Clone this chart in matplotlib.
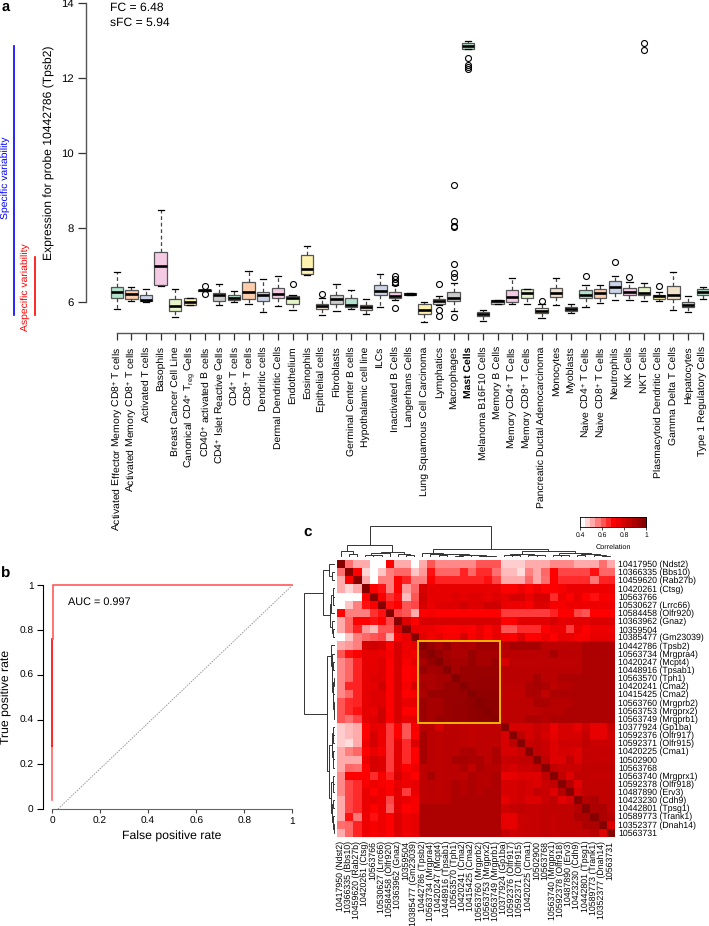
import numpy as np
import matplotlib
matplotlib.use("Agg")
import matplotlib.pyplot as plt
from matplotlib.colors import LinearSegmentedColormap
from matplotlib.patches import Rectangle

plt.rcParams['font.family'] = ['Liberation Sans', 'DejaVu Sans']
plt.rcParams['mathtext.fontset'] = 'custom'
plt.rcParams['mathtext.rm'] = 'Liberation Sans'
plt.rcParams['mathtext.default'] = 'regular'
plt.rcParams['text.hinting'] = 'no_hinting'

W, H = 709, 926

# ---------- panel a data ----------
cell_types = [
    "Activated Effector Memory CD8$^{+}$ T cells", "Activated Memory CD8$^{+}$ T cells", "Activated T cells",
    "Basophils", "Breast Cancer Cell Line", "Canonical CD4$^{+}$ T$_{reg}$ Cells", "CD40$^{+}$ activated B cells",
    "CD4$^{+}$ Islet Reactive Cells", "CD4$^{+}$ T cells", "CD8$^{+}$ T cells", "Dendritic cells",
    "Dermal Dendritic Cells", "Endothelium", "Eosinophils", "Epithelial cells", "Fibroblasts",
    "Germinal Center B cells", "Hypothalamic cell line", "ILCs", "Inactivated B Cells", "Langerhans Cells",
    "Lung Squamous Cell Carcinoma", "Lymphatics", "Macrophages", "Mast Cells", "Melanoma B16F10 Cells",
    "Memory B Cells", "Memory CD4$^{+}$ T Cells", "Memory CD8$^{+}$ T Cells", "Pancreatic Ductal Adenocarcinoma",
    "Monocytes", "Myoblasts", "Naive CD4$^{+}$ T Cells", "Naive CD8$^{+}$ T Cells", "Neutrophils", "NK Cells",
    "NKT Cells", "Plasmacytoid Dendritic Cells", "Gamma Delta T Cells", "Hepatocytes", "Type 1 Regulatory Cells",
]
box_med = [6.27, 6.22, 6.06, 6.98, 5.91, 6.02, 6.32, 6.20, 6.13, 6.29, 6.20, 6.22, 6.11, 6.90, 5.91, 6.10, 5.94,
           5.88, 6.31, 6.18, 6.22, 5.80, 6.03, 6.13, 12.87, 5.69, 6.03, 6.15, 6.24, 5.78, 6.26, 5.83, 6.21, 6.25,
           6.41, 6.29, 6.24, 6.16, 6.19, 5.94, 6.29]
box_q1 = [6.11, 6.09, 6.03, 6.46, 5.77, 5.94, 6.30, 6.03, 6.07, 6.10, 6.04, 6.13, 5.96, 6.75, 5.82, 5.95, 5.88,
          5.79, 6.21, 6.11, 6.20, 5.69, 5.96, 6.03, 12.78, 5.63, 5.97, 6.01, 6.13, 5.71, 6.14, 5.77, 6.11, 6.13,
          6.26, 6.19, 6.20, 6.09, 6.10, 5.88, 6.21]
box_q3 = [6.40, 6.33, 6.21, 7.34, 6.08, 6.12, 6.34, 6.26, 6.19, 6.54, 6.28, 6.38, 6.17, 7.26, 5.97, 6.21, 6.12,
          5.94, 6.47, 6.27, 6.24, 5.95, 6.08, 6.27, 12.94, 5.75, 6.07, 6.32, 6.35, 5.84, 6.38, 5.88, 6.34, 6.37,
          6.56, 6.38, 6.41, 6.21, 6.45, 6.01, 6.37]
box_lo = [5.82, 6.03, 6.02, 6.45, 5.62, 5.93, 6.30, 5.94, 6.02, 5.95, 5.73, 5.90, 5.79, 6.73, 5.66, 5.77, 5.82,
          5.69, 5.88, 6.06, 6.20, 5.48, 5.92, 5.77, 12.77, 5.49, 5.97, 5.96, 5.96, 5.58, 5.93, 5.72, 5.88, 5.98,
          6.06, 6.07, 6.03, 6.03, 5.79, 5.75, 6.10]
box_hi = [6.82, 6.40, 6.35, 8.46, 6.37, 6.12, 6.34, 6.50, 6.30, 6.85, 6.62, 6.70, 6.20, 7.51, 6.12, 6.50, 6.32,
          6.08, 6.76, 6.46, 6.24, 6.02, 6.17, 6.53, 12.99, 5.80, 6.07, 6.66, 6.37, 5.96, 6.65, 5.96, 6.46, 6.46,
          6.71, 6.55, 6.53, 6.27, 6.82, 6.18, 6.40]
box_out = {
    6: [6.44, 6.22], 12: [6.48], 14: [6.23],
    19: [6.71, 6.63, 6.55, 6.51, 5.84],
    22: [6.48, 5.81, 5.64],
    23: [9.13, 8.18, 8.04, 8.02, 7.04, 6.78, 6.67, 5.62],
    24: [12.53, 12.36, 12.30, 12.24],
    29: [6.04], 32: [6.70], 34: [7.07], 35: [6.67], 36: [12.93, 12.76], 37: [6.45],
}
box_colors = ['#B3E2CD', '#FDCDAC', '#CBD5E8', '#F4CAE4', '#E6F5C9', '#FFF2AE', '#F1E2CC', '#CCCCCC']
yticks_a = [6, 8, 10, 12, 14]

# ---------- panel b data ----------
roc_x_light1 = [0.0, 0.0]
roc_y_light1 = [0.04, 0.28]
roc_x_mid = [0.002, 0.002]
roc_y_mid = [0.28, 0.76]
roc_x_light2 = [0.005, 0.005, 1.0]
roc_y_light2 = [0.76, 1.0, 1.0]
diag_x = [0.025, 1.0]
diag_y = [0.0, 1.0]
ticks_b = [0, 0.2, 0.4, 0.6, 0.8, 1]
ticklabels_b = ['0', '0.2', '0.4', '0.6', '0.8', '1']

# ---------- panel c data ----------
probes = [
    "10417950 (Ndst2)", "10366335 (Bbs10)", "10459620 (Rab27b)", "10420261 (Ctsg)", "10563766", "10530627 (Lrrc66)",
    "10584458 (Olfr920)", "10363962 (Gnaz)", "10359504", "10385477 (Gm23039)", "10442786 (Tpsb2)",
    "10563734 (Mrgpra4)", "10420247 (Mcpt4)", "10448916 (Tpsab1)", "10563570 (Tph1)", "10420241 (Cma2)",
    "10415425 (Cma2)", "10563760 (Mrgprb2)", "10563753 (Mrgprx2)", "10563749 (Mrgprb1)", "10377924 (Gp1ba)",
    "10592376 (Olfr917)", "10592371 (Olfr915)", "10420225 (Cma1)", "10502900", "10563768", "10563740 (Mrgprx1)",
    "10592378 (Olfr918)", "10487890 (Erv3)", "10423230 (Cdh9)", "10442801 (Tpsg1)", "10589773 (Trank1)",
    "10352377 (Dnah14)", "10563731",
]
corr_upper = [
    [1, .57, .50, .50, .40, .40, .70, .50, .50, .40, .50, .60, .54, .54, .54, .54, .54, .60, .60, .60, .46, .46, .46, .50, .50, .50, .54, .54, .54, .50, .50, .50, .57, .50],
    [1, .70, .45, .40, .47, .55, .58, .58, .47, .52, .68, .58, .58, .58, .66, .58, .65, .65, .57, .48, .48, .44, .55, .50, .58, .70, .62, .62, .62, .62, .68, .58, .58],
    [1, .50, .40, .55, .55, .70, .66, .55, .55, .70, .66, .66, .66, .66, .66, .66, .68, .62, .50, .50, .50, .58, .50, .57, .70, .65, .65, .65, .65, .56, .66, .66],
    [1, .70, .68, .55, .70, .52, .58, .80, .76, .76, .76, .76, .76, .76, .76, .76, .76, .70, .70, .74, .70, .74, .70, .70, .72, .75, .75, .75, .74, .74, .74],
    [1, .72, .64, .68, .48, .60, .82, .76, .76, .76, .78, .76, .78, .78, .75, .78, .76, .80, .80, .75, .80, .80, .65, .74, .70, .76, .70, .68, .72, .72],
    [1, .68, .70, .60, .62, .80, .75, .78, .78, .78, .82, .78, .78, .82, .82, .75, .74, .74, .72, .78, .78, .72, .72, .74, .74, .74, .74, .74, .74],
    [1, .62, .60, .50, .70, .72, .70, .70, .70, .70, .70, .70, .70, .70, .63, .63, .63, .63, .63, .63, .66, .70, .70, .62, .60, .70, .70, .70],
    [1, .78, .70, .80, .80, .80, .80, .80, .80, .80, .80, .80, .80, .70, .70, .77, .77, .77, .77, .80, .76, .77, .77, .77, .79, .79, .79],
    [1, .75, .74, .74, .72, .70, .70, .72, .70, .75, .70, .75, .60, .60, .65, .65, .65, .70, .74, .74, .63, .75, .70, .74, .74, .74],
    [1, .77, .73, .76, .72, .72, .80, .72, .76, .70, .76, .72, .70, .78, .70, .70, .74, .70, .76, .75, .72, .72, .76, .76, .76],
    [1, .96, .92, .96, .90, .92, .90, .94, .94, .94, .88, .92, .92, .92, .92, .86, .86, .86, .86, .86, .90, .90, .90, .90],
    [1, .96, .92, .90, .90, .95, .92, .92, .92, .87, .87, .87, .87, .87, .87, .92, .87, .87, .87, .90, .90, .90, .90],
    [1, .93, .92, .92, .95, .92, .92, .95, .80, .86, .86, .86, .86, .86, .86, .86, .86, .86, .90, .90, .90, .90],
    [1, .92, .95, .95, .95, .95, .95, .87, .87, .87, .87, .87, .87, .87, .87, .87, .87, .90, .90, .90, .90],
    [1, .95, .95, .96, .96, .96, .87, .87, .87, .87, .92, .87, .87, .90, .90, .90, .90, .90, .90, .90],
    [1, .96, .96, .96, .96, .86, .86, .86, .90, .92, .90, .86, .88, .88, .90, .90, .90, .90, .90],
    [1, .97, .97, .97, .85, .85, .85, .90, .90, .85, .90, .90, .90, .90, .90, .90, .90, .90],
    [1, .98, .98, .86, .86, .86, .86, .91, .91, .88, .88, .88, .90, .90, .90, .90, .90],
    [1, .98, .86, .86, .86, .86, .86, .88, .88, .88, .90, .90, .90, .90, .90, .90],
    [1, .86, .86, .86, .90, .90, .88, .90, .90, .90, .90, .90, .90, .90, .90],
    [1, .80, .80, .80, .83, .82, .75, .80, .80, .76, .82, .76, .76, .84],
    [1, .86, .80, .84, .80, .76, .80, .80, .80, .84, .76, .76, .82],
    [1, .83, .85, .83, .78, .82, .82, .82, .85, .83, .83, .83],
    [1, .85, .83, .78, .80, .80, .78, .84, .84, .84, .84],
    [1, .85, .78, .78, .85, .78, .84, .84, .84, .84],
    [1, .85, .83, .83, .83, .85, .85, .85, .85],
    [1, .85, .78, .85, .85, .84, .84, .84],
    [1, .88, .77, .85, .85, .85, .85],
    [1, .80, .85, .85, .85, .85],
    [1, .88, .90, .85, .85],
    [1, .90, .90, .85],
    [1, .90, .88],
    [1, .78],
    [1],
]
# (merge height, left child, right child); integers are leaves
tree = (1.0,
        (.40, (.20, 0, (.10, 1, 2)),
              (.17, (.14, (.08, 3, (.05, 4, 5)), 6), (.09, 7, (.05, 8, 9)))),
        (.27, (.13, 10, (.11, 11, (.09, (.05, 12, 13), (.07, (.04, 14, 15), (.05, 16, (.04, 17, (.03, 18, 19))))))),
              (.19, (.11, (.07, 20, (.05, 21, 22)), (.08, 23, (.06, 24, 25))),
                    (.12, (.08, 26, (.06, 27, 28)), (.09, (.06, 29, 30), (.05, 31, (.04, 32, 33)))))))
cbar_levels = [.40, .45, .50, .55, .60, .65, .70, .75, .80, .85, .90, .95, 1.0]
cbar_ticks = [.4, .6, .8, 1.0]
cbar_ticklabels = ['0.4', '0.6', '0.8', '1']


fig = plt.figure(figsize=(W / 100, H / 100), dpi=100)


def ax_px(l, t, r, b, **kw):
    return fig.add_axes([l / W, 1 - b / H, (r - l) / W, (b - t) / H], **kw)


def txt_px(x, y, s, **kw):
    return fig.text(x / W, 1 - y / H, s, **kw)


# ---------- panel a ----------
ax = ax_px(86, 3.4, 709, 333)
unit_y = (302.4 - 3.4) / 8
unit_x = 14.65
ax.set_xlim((86 - 116.7) / unit_x, (709 - 116.7) / unit_x)
ax.set_ylim(6 - (333 - 302.4) / unit_y, 14)
stats = []
for i in range(len(cell_types)):
    stats.append(dict(med=box_med[i], q1=box_q1[i], q3=box_q3[i], whislo=box_lo[i], whishi=box_hi[i],
                      fliers=box_out.get(i, [])))
pos = np.arange(len(cell_types))
bp = ax.bxp(stats, positions=pos, widths=0.84, capwidths=0.42, patch_artist=True, manage_ticks=False,
            boxprops=dict(edgecolor='#555555', linewidth=0.9),
            medianprops=dict(color='black', linewidth=1.9, solid_capstyle='butt'),
            whiskerprops=dict(color='#444444', linewidth=0.9, linestyle=(0, (3, 2.2))),
            capprops=dict(color='black', linewidth=0.9),
            flierprops=dict(marker='o', markerfacecolor='none', markeredgecolor='black',
                            markersize=4.3, markeredgewidth=0.8))
for i, b in enumerate(bp['boxes']):
    b.set_facecolor(box_colors[i % len(box_colors)])
for s in ['top', 'right']:
    ax.spines[s].set_visible(False)
ax.spines['left'].set_bounds(6, 14)
ax.spines['bottom'].set_bounds(0, 40)
for s in ['left', 'bottom']:
    ax.spines[s].set_color('#555555')
    ax.spines[s].set_linewidth(1.0)
ax.set_yticks(yticks_a)
ax.set_yticklabels([str(v) for v in yticks_a], fontsize=8.2)
ax.tick_params(axis='y', length=5.5, width=0.9, color='#333333', pad=3)
ax.set_xticks(pos)
ax.set_xticklabels(cell_types, rotation=90, fontsize=7.5, ha='center', va='top')
ax.tick_params(axis='x', length=5, width=0.9, color='#333333', pad=4.5)
ax.get_xticklabels()[24].set_fontweight('bold')
txt_px(49, 153, "Expression for probe 10442786 (Tpsb2)", rotation=90, fontsize=8.7, ha='center', va='center')
txt_px(110, 8, "FC = 6.48", fontsize=8.7, ha='left', va='center')
txt_px(110, 23, "sFC = 5.94", fontsize=8.7, ha='left', va='center')
txt_px(5, 178, "Specific variability", rotation=90, fontsize=7.5, color='#0000FF', ha='center', va='center')
txt_px(25, 287, "Aspecific variability", rotation=90, fontsize=7.5, color='#FF0000', ha='center', va='center')
fig.add_artist(plt.Line2D([14 / W, 14 / W], [1 - 46 / H, 1 - 315 / H], color='#0000FF', lw=1.2))
fig.add_artist(plt.Line2D([34.5 / W, 34.5 / W], [1 - 257 / H, 1 - 315 / H], color='#FF0000', lw=1.2))
txt_px(1.5, 10.5, "a", fontsize=10.5, fontweight='bold', ha='left', va='baseline')
txt_px(0.5, 578, "b", fontsize=11, fontweight='bold', ha='left', va='baseline')
txt_px(303, 536, "c", fontsize=11, fontweight='bold', ha='left', va='baseline')

# ---------- panel b ----------
ab = ax_px(42.7, 585.3, 296, 809)
ux = 292.3 - 52
ab.set_xlim((42.7 - 52) / ux, (296 - 52) / ux)
ab.set_ylim(0, 1)
ab.plot(diag_x, diag_y, color='#999999', lw=0.7, ls=(0, (1.5, 1.2)), clip_on=False)
ab.plot(roc_x_light1, roc_y_light1, color='#FF6464', lw=1.2, clip_on=False)
ab.plot(roc_x_mid, roc_y_mid, color='#FF0000', lw=1.2, clip_on=False)
ab.plot(roc_x_light2, roc_y_light2, color='#FF5A5A', lw=1.2, clip_on=False, solid_joinstyle='miter')
for s in ['top', 'right']:
    ab.spines[s].set_visible(False)
ab.spines['bottom'].set_bounds(0, 1)
ab.spines['bottom'].set_color('#666666')
ab.spines['left'].set_color('black')
ab.set_xticks(ticks_b)
ab.set_xticklabels(ticklabels_b, fontsize=7.3)
ab.set_yticks(ticks_b)
ab.set_yticklabels(ticklabels_b, fontsize=7.3)
ab.tick_params(axis='x', length=3.2, width=0.8, color='#444444', pad=2.2)
ab.tick_params(axis='y', length=4, width=0.8, pad=2.5)
txt_px(68, 602, "AUC = 0.997", fontsize=7.8, ha='left', va='center')
txt_px(172, 836, "False positive rate", fontsize=8.8, ha='center', va='center')
txt_px(6, 697, "True positive rate", fontsize=8.8, rotation=90, ha='center', va='center')

# ---------- panel c ----------
n = len(probes)
corr = np.eye(n)
for i, row in enumerate(corr_upper):
    for j, v in enumerate(row):
        corr[i, i + j] = v
        corr[i + j, i] = v
cmap = LinearSegmentedColormap.from_list('corr', [(0, '#FFFFFF'), (0.5, '#FF0000'), (1, '#860000')], N=256)
L, T, R, B = 336.7, 560, 614, 836.7
ah = ax_px(L, T, R, B)
ah.imshow(corr, cmap=cmap, vmin=0.4, vmax=1.0, aspect='auto', interpolation='nearest')
for s in ah.spines.values():
    s.set_visible(False)
ah.yaxis.tick_right()
ah.set_yticks(np.arange(n))
ah.set_yticklabels(probes, fontsize=6.3, ha='left')
ah.set_xticks(np.arange(n))
ah.set_xticklabels(probes, fontsize=6.3, rotation=90, ha='center', va='top')
ah.tick_params(axis='both', length=0, pad=2.8)
ah.add_patch(Rectangle((9.5, 9.5), 10, 10, fill=False, edgecolor='#F2B705', lw=1.4, clip_on=False, zorder=5))


def draw_tree(node, a, orient):
    if not isinstance(node, tuple):
        return float(node), 0.0
    h, l, r = node
    pl, hl = draw_tree(l, a, orient)
    pr, hr = draw_tree(r, a, orient)
    xs, ys = [pl, pl, pr, pr], [hl, h, h, hr]
    if orient == 'top':
        a.plot(xs, ys, color='#333333', lw=0.7, solid_joinstyle='miter')
    else:
        a.plot(ys, xs, color='#333333', lw=0.7, solid_joinstyle='miter')
    return (pl + pr) / 2, h


at = ax_px(L, 526, R, 557)
at.set_xlim(-0.5, n - 0.5)
at.set_ylim(0, 1)
at.axis('off')
draw_tree(tree, at, 'top')
al = ax_px(304, T, 335, B)
al.set_ylim(n - 0.5, -0.5)
al.set_xlim(1, 0)
al.axis('off')
draw_tree(tree, al, 'left')

ac = ax_px(580, 516.7, 646.5, 527)
ac.imshow(np.array(cbar_levels)[None, :], cmap=cmap, vmin=0.4, vmax=1.0, aspect='auto',
          extent=(0.4, 1.0, 0, 1), interpolation='nearest')
ac.set_yticks([])
ac.set_xticks(cbar_ticks)
ac.set_xticklabels(cbar_ticklabels, fontsize=4.9)
ac.tick_params(axis='x', length=2, width=0.5, pad=1.5)
for s in ac.spines.values():
    s.set_linewidth(0.6)
txt_px(613, 547, "Correlation", fontsize=5.2, ha='center', va='center')

fig.savefig('out.png', dpi=100)
